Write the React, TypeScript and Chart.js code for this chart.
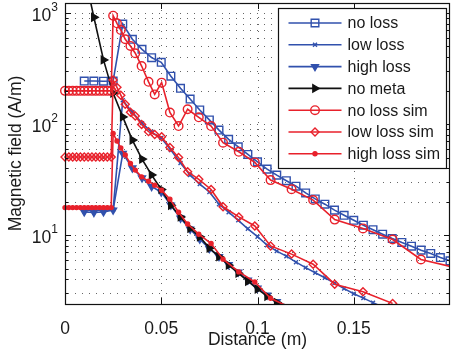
import React, { useEffect, useRef } from 'react';
import { Chart, registerables } from 'chart.js';
import { drawPoint } from 'chart.js/helpers';

Chart.register(...registerables);

// ---------------- data ----------------
const measX = [
  0.01, 0.015, 0.02, 0.025, 0.03, 0.035, 0.04, 0.045, 0.05, 0.055,
  0.06, 0.065, 0.07, 0.075, 0.08, 0.085, 0.09, 0.095, 0.1, 0.105,
  0.11, 0.115, 0.12, 0.125, 0.13, 0.135, 0.14, 0.145, 0.15, 0.155,
  0.16, 0.165, 0.17, 0.175, 0.18, 0.185, 0.19, 0.195, 0.2,
];
const noLoss = [
  244, 244, 243, 244, 796, 580, 471, 396, 360, 270,
  210, 168, 134, 109, 88.3, 72.8, 62.4, 53.3, 45.7, 39.3,
  34.7, 30.9, 27.6, 24.0, 21.2, 19.0, 16.8, 15.1, 13.6, 12.3,
  11.2, 10.2, 9.33, 8.59, 7.96, 7.33, 6.84, 6.29, 5.87,
];
const lowLoss = [
  16.8, 16.8, 16.8, 17.0, 164, 128, 102, 84.7, 74.8, 58.3,
  44.6, 34.7, 28.8, 24.5, 19.0, 16.1, 13.6, 11.4, 9.69, 8.12,
  7.18, 6.47, 5.71, 5.10, 4.59, 4.14, 3.70, 3.30, 2.97, 2.71,
  2.47, 2.25,
];
const highLoss = [
  16.2, 16.0, 16.2, 16.8, 54.5, 40.2, 32.7, 27.4, 24.4, 18.6,
  14.2, 11.3, 9.2, 7.55, 6.40, 5.42, 4.64, 3.94, 3.33, 2.88,
  2.52, 2.24,
];
const noMeta = [
  2300, 915, 378, 190, 116, 71.8, 48.4, 34.8, 25.8, 18.6,
  14.6, 11.5, 9.66, 7.64, 6.40, 5.37, 4.55, 3.85, 3.27, 2.82,
  2.47, 2.2,
];

const simX = [
  0, 0.002, 0.004, 0.006, 0.008, 0.01, 0.012, 0.014, 0.016, 0.018,
  0.02, 0.022, 0.024, 0.025, 0.027, 0.029, 0.0313, 0.034, 0.0365, 0.0398,
  0.0434, 0.0466, 0.0502, 0.0545, 0.059, 0.0637, 0.0695, 0.0759, 0.0821, 0.0903,
  0.0986, 0.1068, 0.1177, 0.1289, 0.1401, 0.1548, 0.1702, 0.1849, 0.205,
];
const noLossSim = [
  199, 199, 199, 199, 199, 199, 199, 199, 199, 199,
  199, 199, 199, 946, 807, 703, 580, 505, 434, 333,
  240, 185, 236, 127, 96, 136, 115, 96, 68, 56.3,
  45.2, 31.3, 25.9, 20.7, 13.8, 11.5, 9.14, 6.04, 5.0,
];
const lowLossSim = [
  50.5, 50.5, 50.5, 50.5, 50.5, 50.5, 50.5, 50.5, 50.5, 50.5,
  50.5, 50.5, 50.5, 249, 214, 182, 151, 128, 118, 99,
  85.5, 80.7, 76.8, 61.4, 49.9, 37.2, 31.8, 25.8, 18.0, 14.6,
  12.1, 8.0, 6.75, 5.48, 3.62, 3.09, 2.43,
];
const highLossSim = [
  17.7, 17.7, 17.7, 17.7, 17.7, 17.7, 17.7, 17.7, 17.7, 17.7,
  17.7, 17.7, 17.7, 82.4, 70.3, 60.8, 52.6, 44.2, 38.5, 33.5,
  30.6, 28.2, 25.4, 21.1, 16.1, 12.6, 10.2, 8.41, 6.08, 4.67,
  3.79, 2.7, 2.2,
];

const seriesNames = ['no loss', 'low loss', 'high loss', 'no meta', 'no loss sim', 'low loss sim', 'high loss sim'];
const xTickValues = [0, 0.05, 0.1, 0.15];
const xTickLabels = ['0', '0.05', '0.1', '0.15'];
const yTickValues = [10, 100, 1000];
const yTickBase = ['10', '10', '10'];
const yTickExp = ['1', '2', '3'];

// ---------------- styling ----------------
const BLUE = '#3151ad';
const RED = '#e8212b';
const BLACK = '#111111';
const TEXT = '#1a1a1a';
const FONT = "'Liberation Sans', Arial, Helvetica, sans-serif";
const Y_MIN = 2.4;
const Y_MAX = 1230;

const zip = (xs: number[], ys: number[]) => ys.map((v, i) => ({ x: xs[i], y: v }));

type Sty = { color: string; style: string; radius: number; rotation?: number; filled: boolean };
const styles: Sty[] = [
  { color: BLUE, style: 'rect', radius: 5.4, filled: false },
  { color: BLUE, style: 'crossRot', radius: 2.8, filled: false },
  { color: BLUE, style: 'triangle', radius: 4, rotation: 180, filled: true },
  { color: BLACK, style: 'triangle', radius: 4.3, rotation: 90, filled: true },
  { color: RED, style: 'circle', radius: 4.3, filled: false },
  { color: RED, style: 'rectRot', radius: 4, filled: false },
  { color: RED, style: 'circle', radius: 2, filled: true },
];
const seriesData = [
  zip(measX, noLoss),
  zip(measX, lowLoss),
  zip(measX, highLoss),
  zip(measX, noMeta),
  zip(simX, noLossSim),
  zip(simX, lowLossSim),
  zip(simX, highLossSim),
];

const datasets = seriesNames.map((name, i) => {
  const s = styles[i];
  return {
    label: name,
    data: seriesData[i],
    borderColor: s.color,
    backgroundColor: s.color,
    borderWidth: 1.6,
    pointStyle: s.style,
    pointRadius: s.radius,
    pointRotation: s.rotation || 0,
    pointBackgroundColor: s.filled ? s.color : 'rgba(0,0,0,0)',
    pointBorderColor: s.color,
    pointBorderWidth: 1.4,
    tension: 0,
    order: seriesNames.length - 1 - i,
    clip: { left: 6, top: 0, right: 0, bottom: 0 },
  };
});

const yMinorValues: number[] = [];
for (const dec of [1, 10, 100, 1000]) {
  for (let m = 2; m <= 9; m++) {
    const v = m * dec;
    if (v > Y_MIN && v < Y_MAX) yMinorValues.push(v);
  }
}

const matlabAxes = {
  id: 'matlabAxes',
  beforeDatasetsDraw(chart: any) {
    const { ctx, chartArea: a, scales } = chart;
    const x = scales.x, y = scales.y;
    ctx.save();
    ctx.strokeStyle = '#666';
    ctx.lineWidth = 1;
    ctx.setLineDash([1, 6]);
    ctx.beginPath();
    for (const v of xTickValues) {
      const px = Math.round(x.getPixelForValue(v)) + 0.5;
      if (px <= a.left + 1 || px >= a.right - 1) continue;
      ctx.moveTo(px, a.top);
      ctx.lineTo(px, a.bottom);
    }
    for (const v of [...yTickValues, ...yMinorValues]) {
      const py = Math.round(y.getPixelForValue(v)) + 0.5;
      if (py <= a.top + 1 || py >= a.bottom - 1) continue;
      ctx.moveTo(a.left + 3, py);
      ctx.lineTo(a.right, py);
    }
    ctx.stroke();
    ctx.restore();
  },
  afterDatasetsDraw(chart: any) {
    const { ctx, chartArea: a, scales } = chart;
    const x = scales.x, y = scales.y;
    ctx.save();
    ctx.setLineDash([]);
    ctx.strokeStyle = '#111';
    ctx.lineWidth = 1;
    ctx.beginPath();
    for (const v of xTickValues) {
      const px = Math.round(x.getPixelForValue(v)) + 0.5;
      ctx.moveTo(px, a.bottom); ctx.lineTo(px, a.bottom - 6);
      ctx.moveTo(px, a.top); ctx.lineTo(px, a.top + 6);
    }
    for (const v of yTickValues) {
      const py = Math.round(y.getPixelForValue(v)) + 0.5;
      ctx.moveTo(a.left, py); ctx.lineTo(a.left + 6, py);
      ctx.moveTo(a.right, py); ctx.lineTo(a.right - 6, py);
    }
    for (const v of yMinorValues) {
      const py = Math.round(y.getPixelForValue(v)) + 0.5;
      ctx.moveTo(a.left, py); ctx.lineTo(a.left + 3, py);
      ctx.moveTo(a.right, py); ctx.lineTo(a.right - 3, py);
    }
    ctx.stroke();
    ctx.lineWidth = 1.2;
    ctx.strokeRect(Math.round(a.left) + 0.5, Math.round(a.top) + 0.5, Math.round(a.right - a.left) - 1, Math.round(a.bottom - a.top));
    // y tick labels: base with superscript exponent
    ctx.fillStyle = TEXT;
    ctx.textBaseline = 'middle';
    yTickValues.forEach((v, i) => {
      const py = y.getPixelForValue(v);
      ctx.font = `12px ${FONT}`;
      ctx.textAlign = 'left';
      const expW = ctx.measureText(yTickExp[i]).width;
      const xr = a.left - 7;
      ctx.fillText(yTickExp[i], xr - expW, py - 5);
      ctx.font = `17.5px ${FONT}`;
      ctx.textAlign = 'right';
      ctx.fillText(yTickBase[i], xr - expW, py + 3);
    });
    ctx.restore();
  },
  afterDraw(chart: any) {
    const { ctx, chartArea: a } = chart;
    const left = Math.round(a.right) - 172 + 0.5;
    const top = Math.round(a.top) + 5 + 0.5;
    const w = 168, h = 160;
    ctx.save();
    ctx.setLineDash([]);
    ctx.fillStyle = '#ffffff';
    ctx.fillRect(left, top, w, h);
    ctx.strokeStyle = '#111';
    ctx.lineWidth = 1.2;
    ctx.strokeRect(left, top, w, h);
    chart.data.datasets.forEach((d: any, i: number) => {
      const yy = top + 14.5 + i * 21.8;
      const x0 = left + 10, x1 = left + 63, xm = (x0 + x1) / 2;
      ctx.strokeStyle = d.borderColor;
      ctx.lineWidth = d.borderWidth;
      ctx.beginPath();
      ctx.moveTo(x0, yy); ctx.lineTo(x1, yy);
      ctx.stroke();
      ctx.fillStyle = d.pointBackgroundColor;
      ctx.strokeStyle = d.pointBorderColor;
      ctx.lineWidth = d.pointBorderWidth;
      drawPoint(ctx, { pointStyle: d.pointStyle, rotation: d.pointRotation, radius: d.pointRadius, borderWidth: d.pointBorderWidth } as any, xm, yy);
      ctx.fillStyle = TEXT;
      ctx.font = `16px ${FONT}`;
      ctx.textBaseline = 'middle';
      ctx.textAlign = 'left';
      ctx.fillText(d.label, left + 69, yy + 1);
    });
    ctx.restore();
  },
};

export default function App() {
  const ref = useRef<HTMLCanvasElement>(null);
  useEffect(() => {
    document.body.style.margin = '0';
    const chart = new Chart(ref.current as HTMLCanvasElement, {
      type: 'line',
      data: { datasets: datasets as any },
      options: {
        animation: false,
        responsive: false,
        devicePixelRatio: 1,
        layout: { autoPadding: false, padding: { top: 3, right: 2, bottom: 0, left: 0 } },
        plugins: { legend: { display: false }, tooltip: { enabled: false } },
        scales: {
          x: {
            type: 'linear',
            min: 0,
            max: 0.2,
            grid: { display: false },
            border: { display: false },
            afterBuildTicks: (s: any) => { s.ticks = xTickValues.map((v) => ({ value: v })); },
            afterFit: (s: any) => {
              s.height = 50;
              s.paddingLeft = 0; s.paddingRight = 0; s.paddingTop = 0; s.paddingBottom = 0;
            },
            ticks: {
              autoSkip: false,
              maxRotation: 0,
              padding: 7,
              color: TEXT,
              font: { family: FONT, size: 17.5 },
              callback: (v: any) => { const i = xTickValues.indexOf(Number(v)); return i >= 0 ? xTickLabels[i] : ''; },
            },
            title: { display: true, text: 'Distance (m)', color: TEXT, font: { family: FONT, size: 17.5 }, padding: { top: 0, bottom: 3 } },
          },
          y: {
            type: 'logarithmic',
            min: Y_MIN,
            max: Y_MAX,
            grid: { display: false },
            border: { display: false },
            afterBuildTicks: (s: any) => { s.ticks = yTickValues.map((v) => ({ value: v })); },
            afterFit: (s: any) => {
              s.width = 65;
              s.paddingLeft = 0; s.paddingRight = 0; s.paddingTop = 0; s.paddingBottom = 0;
            },
            ticks: { display: false },
            title: { display: true, text: 'Magnetic field (A/m)', color: TEXT, font: { family: FONT, size: 17.5 }, padding: { top: 6, bottom: 0 } },
          },
        },
      },
      plugins: [matlabAxes as any],
    });
    return () => chart.destroy();
  }, []);
  return <canvas ref={ref} width={452} height={354} style={{ display: 'block', width: 452, height: 354 }} />;
}
